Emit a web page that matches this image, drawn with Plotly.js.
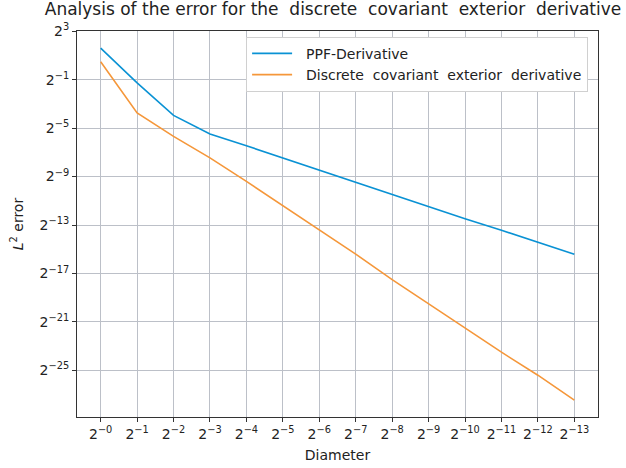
<!DOCTYPE html>
<html>
<head>
<meta charset="utf-8">
<script src="https://cdn.plot.ly/plotly-3.0.1.min.js"></script>
<style>html,body{margin:0;padding:0;background:#fff;}#chart{width:626px;height:468px;}</style>
</head>
<body>
<div id="chart"></div>
<script>
// Diameter values (h = 2^-k)
const diameter = [1, 0.5, 0.25, 0.125, 0.0625, 0.03125, 0.015625, 0.0078125,
  0.00390625, 0.001953125, 0.0009765625, 0.00048828125, 0.000244140625, 0.0001220703125];
// L2 errors
const ppfError = [3.05, 0.415, 0.0647, 0.0224, 0.0114, 0.00568, 0.00275, 0.00138,
  0.000686, 0.000345, 0.000176, 0.0000906, 0.0000457, 0.0000229];
const dceError = [1.395, 0.0743, 0.0195, 0.00568, 0.00148, 0.000370, 0.0000925, 0.0000231,
  0.00000539, 0.00000135, 0.000000337, 0.0000000843, 0.0000000226, 0.00000000542];
const seriesNames = ["PPF-Derivative", "Discrete  covariant  exterior  derivative"];
const xTickExp = ["0","1","2","3","4","5","6","7","8","9","10","11","12","13"];
const yTickExp = [3, -1, -5, -9, -13, -17, -21, -25];

const xTickVals = xTickExp.map(e => Math.pow(2, -Number(e)));
const xTickText = xTickExp.map(e => "2<sup>\u2212" + e + "</sup>");
const yTickVals = yTickExp.map(e => Math.pow(2, e));
const yTickText = yTickExp.map(e => "2<sup>" + (e < 0 ? "\u2212" + (-e) : e) + "</sup>");

const L2 = Math.log10(2);
const font = {family: "DejaVu Sans, sans-serif", size: 14, color: "#222"};
const tickFont = {family: "DejaVu Sans, sans-serif", size: 14, color: "#222"};

const traces = [
  {x: diameter, y: ppfError, name: "\u00a0\u00a0" + seriesNames[0], type: "scatter", mode: "lines",
   line: {color: "#0a92d4", width: 1.6}},
  {x: diameter, y: dceError, name: "\u00a0\u00a0" + seriesNames[1], type: "scatter", mode: "lines",
   line: {color: "#f5973a", width: 1.6}}
];

const axisCommon = {
  showgrid: true, gridcolor: "#bcc0c8", gridwidth: 1,
  showline: true, linecolor: "#333", linewidth: 1, mirror: true,
  ticks: "outside", ticklen: 4, tickcolor: "#333", zeroline: false,
  tickfont: tickFont
};

const layout = {
  width: 626, height: 468,
  margin: {l: 77, r: 28, t: 31, b: 51},
  paper_bgcolor: "#fff", plot_bgcolor: "#fff",
  font: font,
  title: {text: "Analysis of the error for the  discrete  covariant  exterior  derivative",
          font: {family: "DejaVu Sans, sans-serif", size: 17, color: "#222"},
          x: 0.532, xanchor: "center", y: 0.981, yanchor: "middle"},
  xaxis: Object.assign({}, axisCommon, {
    type: "log", range: [0.65 * L2, -13.65 * L2],
    tickmode: "array", tickvals: xTickVals, ticktext: xTickText,
    title: {text: "Diameter", font: font, standoff: 9}
  }),
  yaxis: Object.assign({}, axisCommon, {
    type: "log", range: [-28.85 * L2, 3.02 * L2],
    tickmode: "array", tickvals: yTickVals, ticktext: yTickText,
    title: {text: "<i>L</i><sup>2</sup> error", font: font, standoff: 12}
  }),
  legend: {x: 0.981, xanchor: "right", y: 0.985, yanchor: "top",
           bgcolor: "#fff", bordercolor: "#d0d0d0", borderwidth: 1,
           itemwidth: 40, tracegroupgap: 4,
           font: {family: "DejaVu Sans, sans-serif", size: 14, color: "#222"}},
  showlegend: true
};

Plotly.newPlot("chart", traces, layout, {displayModeBar: false, staticPlot: true});
</script>
</body>
</html>
